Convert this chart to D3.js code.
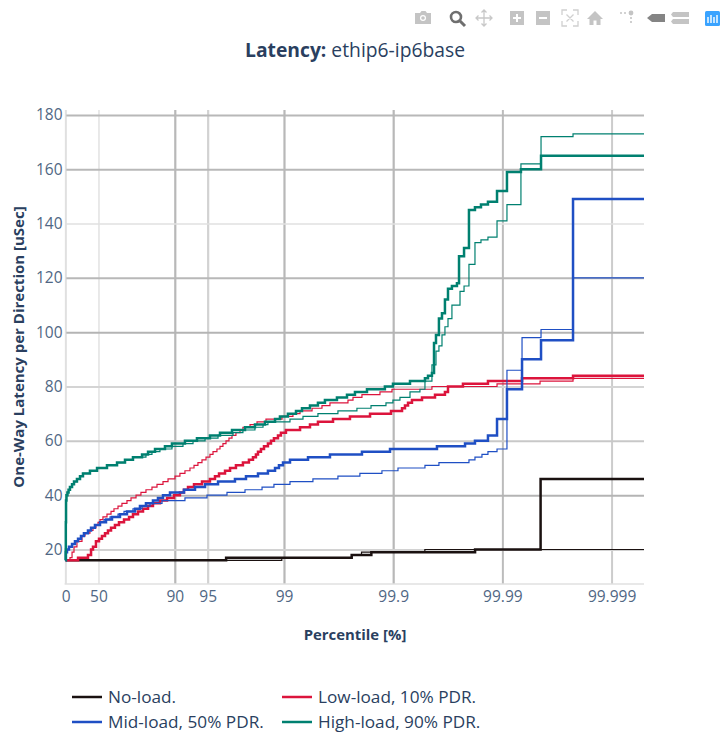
<!DOCTYPE html>
<html><head><meta charset="utf-8">
<script src="https://cdn.jsdelivr.net/npm/d3@7"></script>
<style>html,body{margin:0;padding:0;background:#fff}svg{display:block}</style>
</head><body><div id="c"></div>
<script>
// x values are "nines": log10(100 / (100 - percentile))
const xEnd = 5.297;
const xTickValues = [0, 0.30103, 1, 1.30103, 2, 3, 4, 5];
const xTickLabels = ["0", "50", "90", "95", "99", "99.9", "99.99", "99.999"];
const yTickValues = [20, 40, 60, 80, 100, 120, 140, 160, 180];

const noLoadThickX = [0,1.47,2.62,2.80,3.75,4.35];
const noLoadThickY = [16,17,18,19,20,46];
const noLoadThinX = [0,1.98,2.62,2.71,3.29];
const noLoadThinY = [16,17,18,19,20];

const lowThickX = [0,.114,.205,.233,.251,.278,.306,.333,.361,.388,.416,.452,.489,.535,.581,.617,.663,.709,.755,.800,.864,.929,.993,1.047,1.084,1.121,1.176,1.249,1.322,1.368,1.405,1.460,1.506,1.560,1.624,1.679,1.716,1.743,1.762,1.789,1.817,1.853,1.881,1.908,1.945,1.972,2.018,2.147,2.238,2.311,2.449,2.604,2.788,2.980,3.081,3.108,3.136,3.172,3.264,3.383,3.474,3.502,3.639,3.868,4.180,4.647];
const lowThickY = [16,17,18,20,21,23,24,25,26,27,28,29,30,31,32,33,34,35,36,37,38,39,40,41,42,43,44,45,46,47,48,49,50,51,52,53,54,55,56,57,58,59,60,61,62,63,64,65,66,67,68,69,70,71,72,73,74,75,76,77,78,80,81,82,83,84];
const lowThinX = [0,.040,.059,.077,.104,.150,.178,.223,.251,.278,.297,.315,.342,.379,.416,.443,.480,.516,.562,.599,.645,.690,.736,.791,.837,.892,.938,1.002,1.047,1.093,1.139,1.176,1.212,1.249,1.286,1.322,1.350,1.386,1.414,1.441,1.469,1.496,1.524,1.560,1.597,1.624,1.689,1.753,1.835,1.982,2.082,2.147,2.257,2.348,2.421,2.586,2.632,2.714,2.879,2.989,3.355,3.951,4.345,4.647];
const lowThinY = [16,17,19,21,23,25,26,27,28,29,30,31,32,33,34,35,36,37,38,39,40,41,42,43,44,45,46,47,48,49,50,51,52,53,54,55,56,57,58,59,60,61,62,63,64,65,66,67,68,69,70,71,72,73,74,75,76,77,78,79,80,81,82,83];

const midThickX = [0,.003,.013,.031,.059,.086,.114,.141,.168,.205,.233,.269,.315,.370,.425,.498,.562,.636,.681,.736,.800,.846,.892,.956,1.084,1.185,1.277,1.396,1.551,1.652,1.762,1.853,1.918,1.954,1.991,2.055,2.220,2.421,2.714,2.971,3.401,3.658,3.749,3.868,3.951,4.042,4.180,4.354,4.647];
const midThickY = [16,19,20,21,22,23,24,25,26,27,28,29,30,31,32,33,34,35,36,37,38,39,40,41,42,43,44,45,46,47,48,49,50,51,52,53,54,55,56,57,58,59,60,62,68,79,90,97,149];
const midThinX = [0,.003,.013,.031,.059,.086,.114,.141,.168,.205,.233,.269,.315,.352,.407,.480,.535,.617,.700,.773,.883,1.093,1.295,1.478,1.643,1.799,1.908,2.055,2.265,2.494,2.695,2.897,3.044,3.291,3.419,3.694,3.749,3.813,3.868,3.951,4.042,4.180,4.354,4.647];
const midThinY = [16,19,20,21,22,23,24,25,26,27,28,29,30,31,32,33,34,35,36,37,38,39,40,41,42,43,44,45,46,47,48,49,50,51,52,53,54,55,56,57,86,98,101,120];

const highThickX = [0,.001,.002,.004,.008,.017,.027,.040,.059,.077,.104,.132,.159,.223,.288,.379,.471,.544,.617,.700,.755,.819,.910,.974,1.093,1.203,1.322,1.414,1.524,1.643,1.734,1.826,1.918,1.963,2.036,2.110,2.165,2.238,2.311,2.375,2.485,2.577,2.650,2.760,2.924,2.998,3.154,3.291,3.319,3.355,3.374,3.392,3.419,3.447,3.474,3.502,3.538,3.584,3.603,3.649,3.694,3.749,3.804,3.868,3.951,4.042,4.170,4.354];
const highThickY = [16,20,30,38,40,41,42,43,44,45,46,47,48,49,50,51,52,53,54,55,56,57,58,59,60,61,62,63,64,65,66,67,68,69,70,71,72,73,74,75,76,77,78,79,80,81,82,83,84,85,96,99,105,107,112,116,117,118,128,131,145,146,147,148,152,159,160,165];
const highThinX = [0,.001,.002,.004,.008,.017,.027,.040,.059,.077,.104,.132,.159,.223,.288,.379,.471,.544,.617,.736,.791,.864,.974,1.075,1.167,1.277,1.396,1.533,1.624,1.734,1.808,1.853,2.055,2.174,2.311,2.494,2.668,2.797,2.934,2.998,3.062,3.154,3.245,3.291,3.355,3.392,3.419,3.447,3.474,3.502,3.538,3.612,3.649,3.694,3.749,3.804,3.868,3.951,4.042,4.170,4.354,4.647];
const highThinY = [16,20,30,38,40,41,42,43,44,45,46,47,48,49,50,51,52,53,54,55,56,57,58,59,60,61,62,63,64,65,66,67,68,69,70,71,72,73,74,75,76,78,79,82,88,93,95,99,102,105,110,115,117,125,133,134,135,141,147,162,172,173];

const seriesNames = ["No-load.", "Low-load, 10% PDR.", "Mid-load, 50% PDR.", "High-load, 90% PDR."];
const seriesColors = ["#1a1110", "#dc143c", "#1f4fc4", "#008070"];

const W = 726, H = 738;
const plotL = 65.6, plotR = 644, plotT = 110, plotB = 584;
const x = d3.scaleLinear().domain([0, xEnd]).range([plotL, plotR]);
const y = d3.scaleLinear().domain([7.3, 181.8]).range([plotB, plotT]);

const svg = d3.select("#c").append("svg").attr("width", W).attr("height", H)
  .style("font-family", "'Open Sans', sans-serif");

// tick-specific grid styling (the reference's lines land on differing sub-pixels)
const xGridStyle = [["#e2e2e2",1.5],["#e2e2e2",1.5],["#b8b8b8",2.2],["#d2d2d2",2.2],["#b8b8b8",2.2],["#b8b8b8",2.2],["#bcbcbc",2],["#cccccc",2]];
const yGridStyle = [["#d2d2d2",2],["#b4b4b4",2],["#c8c8c8",2],["#d4d4d4",2],["#b4b4b4",2],["#b8b8b8",2],["#e0e0e0",1.4],["#b8b8b8",2],["#b8b8b8",2]];
const tickColor = "#506784", titleColor = "#2a3f5f";

const xAxis = d3.axisBottom(x).tickValues(xTickValues).tickSize(plotT - plotB).tickPadding(7)
  .tickFormat((d, i) => xTickLabels[i]);
const gx = svg.append("g").attr("transform", `translate(0,${plotB})`).call(xAxis);
gx.select(".domain").remove();
gx.selectAll(".tick line").attr("stroke", (d, i) => xGridStyle[i][0]).attr("stroke-width", (d, i) => xGridStyle[i][1]);
gx.selectAll(".tick text").attr("fill", tickColor).attr("font-size", 15.5).attr("font-family", "'Open Sans', sans-serif");

const yAxis = d3.axisLeft(y).tickValues(yTickValues).tickSize(plotL - plotR).tickPadding(3);
const gy = svg.append("g").attr("transform", `translate(${plotL},0)`).call(yAxis);
gy.select(".domain").remove();
gy.selectAll(".tick line").attr("stroke", (d, i) => yGridStyle[i][0]).attr("stroke-width", (d, i) => yGridStyle[i][1]);
gy.selectAll(".tick text").attr("fill", tickColor).attr("font-size", 15.5).attr("font-family", "'Open Sans', sans-serif");

// axis lines
svg.append("line").attr("x1", plotL).attr("x2", plotL).attr("y1", plotT).attr("y2", plotB).attr("stroke", "#e0e0e0").attr("stroke-width", 1.5);
svg.append("line").attr("x1", plotL - 1).attr("x2", plotR).attr("y1", plotB).attr("y2", plotB).attr("stroke", "#e0e0e0").attr("stroke-width", 1.5);

const line = d3.line().x(d => x(d[0])).y(d => y(d[1])).curve(d3.curveStepAfter);
const traces = [
  [noLoadThinX, noLoadThinY, 0, 1.2], [noLoadThickX, noLoadThickY, 0, 2.5],
  [lowThinX, lowThinY, 1, 1.2], [lowThickX, lowThickY, 1, 2.5],
  [midThinX, midThinY, 2, 1.2], [midThickX, midThickY, 2, 2.5],
  [highThinX, highThinY, 3, 1.2], [highThickX, highThickY, 3, 2.5]
];
traces.forEach(([xs, ys, c, w]) => {
  const pts = xs.map((v, i) => [v, ys[i]]);
  pts.push([xEnd, ys[ys.length - 1]]);
  svg.append("path").datum(pts).attr("d", line).attr("fill", "none")
    .attr("stroke", seriesColors[c]).attr("stroke-width", w).attr("stroke-linejoin", "miter");
});

// title
const t = svg.append("text").attr("x", 355).attr("y", 57).attr("text-anchor", "middle")
  .attr("font-size", 19.3).attr("fill", titleColor);
t.append("tspan").attr("font-weight", 700).text("Latency:");
t.append("tspan").text(" ethip6-ip6base");

svg.append("text").attr("x", 355).attr("y", 640).attr("text-anchor", "middle")
  .attr("font-size", 14.9).attr("font-weight", 700).attr("fill", titleColor).text("Percentile [%]");
svg.append("text").attr("transform", "translate(24,347) rotate(-90)").attr("text-anchor", "middle")
  .attr("font-size", 15).attr("font-weight", 700).attr("fill", titleColor).text("One-Way Latency per Direction [uSec]");

// legend
[[72, 697], [282, 697], [72, 722], [282, 722]].forEach(([lx, ly], i) => {
  svg.append("line").attr("x1", lx).attr("x2", lx + 30).attr("y1", ly).attr("y2", ly)
    .attr("stroke", seriesColors[i]).attr("stroke-width", 2.5);
  svg.append("text").attr("x", lx + 36).attr("y", ly + 6).attr("font-size", 17.2)
    .attr("fill", titleColor).text(seriesNames[i]);
});

// modebar
const mb = svg.append("g").attr("fill", "#c4c4c4");
const icon = (cx, f) => f(mb.append("g").attr("transform", `translate(${cx},18)`));
icon(423, g => { g.append("path").attr("d", "M-8,-5H-3L-1.5,-7H2.5L4,-5H8V6H-8Z"); g.append("circle").attr("r", 3).attr("fill", "#fff"); g.append("circle").attr("r", 1.8); });
icon(457, g => { g.append("circle").attr("cx", -1).attr("cy", -1).attr("r", 5).attr("fill", "none").attr("stroke", "#6f6f6f").attr("stroke-width", 2.6); g.append("path").attr("d", "M3,3L8,8").attr("stroke", "#6f6f6f").attr("stroke-width", 3); });
icon(484, g => g.append("path").attr("d", "M0,-8V8M-8,0H8M-2.5,-5.5L0,-8L2.5,-5.5M-2.5,5.5L0,8L2.5,5.5M-5.5,-2.5L-8,0L-5.5,2.5M5.5,-2.5L8,0L5.5,2.5").attr("stroke", "#c8c8c8").attr("stroke-width", 1.3).attr("fill", "none"));
icon(517, g => g.append("path").attr("fill-rule", "evenodd").attr("d", "M-7,-7H7V7H-7ZM-1,-4V-1H-4V1H-1V4H1V1H4V-1H1V-4Z"));
icon(543, g => g.append("path").attr("fill-rule", "evenodd").attr("d", "M-7,-7H7V7H-7ZM-4,-1V1H4V-1Z"));
icon(570, g => g.append("path").attr("d", "M-8,-3V-8H-3M3,-8H8V-3M8,3V8H3M-3,8H-8V3M-3.5,-3.5L3.5,3.5M3.5,-3.5L-3.5,3.5").attr("stroke", "#d0d0d0").attr("stroke-width", 1.3).attr("fill", "none"));
icon(595, g => g.append("path").attr("d", "M0,-7L8,1H5.5V7H1.5V2.5H-1.5V7H-5.5V1H-8Z"));
icon(628, g => { g.append("circle").attr("cx", 3).attr("cy", -5).attr("r", 2.4); g.append("path").attr("d", "M-8,-5H-1M3,-1V6").attr("stroke", "#c4c4c4").attr("stroke-width", 1.6).attr("stroke-dasharray", "2 2"); });
icon(656, g => g.append("path").attr("fill", "#6f6f6f").attr("opacity", .85).attr("d", "M-9,0L-4,-4H9V4H-4Z"));
icon(681, g => g.append("path").attr("d", "M-8,-6H8V-1H-8L-10,-3.5ZM-8,1H8V6H-8L-10,3.5Z"));
icon(712, g => { g.append("rect").attr("x", -7).attr("y", -7).attr("width", 15).attr("height", 15).attr("rx", 1.5).attr("fill", "#3aa3ff");
  g.append("path").attr("d", "M-4,-1V5M-1,-3V5M2,-1V5M5,-3V5").attr("stroke", "#fff").attr("stroke-width", 1.4); });
</script></body></html>
